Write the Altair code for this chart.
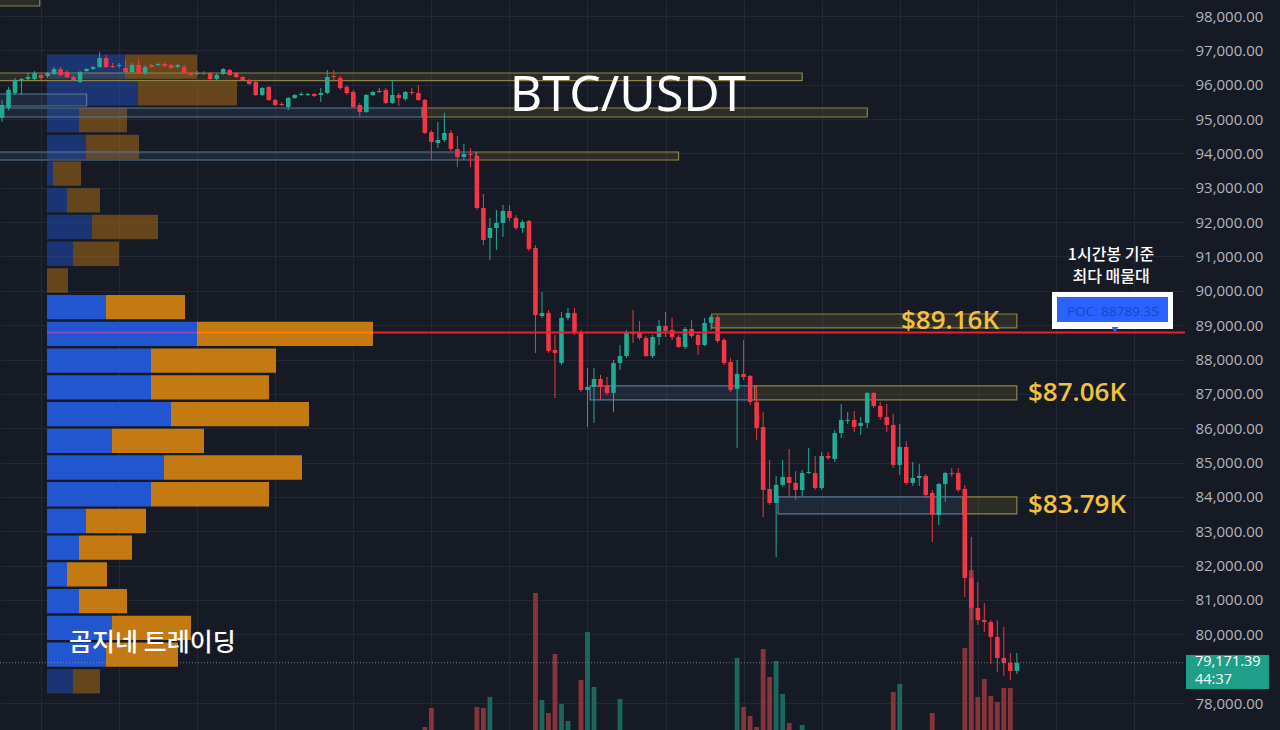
import altair as alt
import pandas as pd

# ---------------- data ----------------
opens = [95030, 95320, 95760, 96110, 96165, 96165, 96283, 96254, 96312, 96457,
         96370, 96224, 96079, 96399, 96457, 96516, 96778, 96545, 96545, 96487,
         96370, 96574, 96341, 96574, 96574, 96603, 96574, 96516, 96516, 96341,
         96310, 96341, 96341, 96166, 96312, 96428, 96341, 96224, 96137, 96079,
         95701, 95933, 95555, 95439, 95351, 95613, 95701, 95701, 95730, 95701,
         95759, 96254, 96195, 95933, 95788, 95409, 95206, 95701, 95788, 95846,
         95468, 95701, 95584, 95788, 95759, 95555, 94623, 94303, 94391, 94594,
         94129, 93896, 93983, 93925, 92411, 91538, 91829, 91975, 92324, 92120,
         91829, 92033, 91247, 89267, 89355, 88277, 87899, 89209, 89355, 88772,
         87113, 87200, 87433, 87230, 87026, 87899, 88103, 88801, 88772, 88627,
         88103, 88656, 88976, 88860, 88656, 88365, 88889, 88714, 88423, 89064,
         89238, 88569, 87928, 87142, 87579, 87520, 86764, 86036, 84231, 83824,
         84348, 84581, 84406, 84202, 84697, 84697, 84260, 85192, 85104, 85861,
         86211, 86240, 86065, 86153, 87026, 86647, 86327, 86094, 84930, 85454,
         84406, 84552, 84610, 84114, 83475, 84377, 84697, 84697, 84231, 81640,
         80767, 80418, 80360, 79923, 79312, 79166, 78933]
highs = [95555, 95930, 96195, 96195, 96340, 96400, 96312, 96370, 96516, 96516,
         96428, 96283, 96399, 96487, 96545, 96952, 96865, 96632, 96632, 96719,
         96632, 96748, 96574, 96603, 96632, 96661, 96603, 96603, 96574, 96370,
         96399, 96399, 96370, 96341, 96487, 96457, 96370, 96254, 96166, 96108,
         95933, 95963, 95584, 95497, 95642, 95730, 95788, 95759, 95759, 95904,
         96428, 96428, 96254, 95992, 95846, 95468, 95730, 95817, 95904, 95904,
         96137, 95759, 95817, 95904, 95992, 95584, 94682, 94915, 95177, 94682,
         94507, 94274, 94158, 93954, 92819, 92120, 92353, 92499, 92499, 92207,
         92062, 92062, 91334, 89966, 89442, 88714, 89384, 89500, 89500, 88860,
         87753, 87753, 87550, 87491, 87986, 88423, 88860, 89442, 89122, 88685,
         88714, 89151, 89384, 89209, 88714, 88947, 89151, 88772, 89209, 89296,
         89296, 88627, 88045, 87986, 88569, 87550, 87259, 86473, 85075, 84610,
         85075, 85396, 84755, 84784, 85425, 85192, 85308, 85308, 85949, 86706,
         86473, 86502, 86327, 87055, 87055, 86764, 86706, 86415, 86123, 85629,
         85017, 84959, 84668, 84202, 84406, 84726, 84843, 84843, 84348, 82834,
         81524, 80913, 80418, 80418, 80214, 79457, 79457]
lows = [94915, 95260, 95700, 95700, 96137, 96137, 96137, 96195, 96283, 96254,
        96195, 96108, 96050, 96370, 96428, 96487, 96487, 96487, 96487, 96341,
        96341, 96312, 96283, 96487, 96545, 96516, 96457, 96487, 96312, 96254,
        96283, 96283, 96137, 96137, 96283, 96254, 96195, 96108, 95992, 95671,
        95671, 95526, 95380, 95380, 95264, 95584, 95671, 95671, 95642, 95497,
        95730, 96137, 95846, 95701, 95322, 95060, 95177, 95671, 95759, 95439,
        95439, 95380, 95526, 95701, 95526, 94565, 93808, 94158, 94332, 94071,
        93605, 93808, 93605, 92353, 91334, 90897, 91189, 91567, 92033, 91771,
        91684, 91160, 88190, 89209, 88190, 86880, 87841, 89151, 88714, 87055,
        86036, 86153, 86822, 86968, 86473, 87695, 88045, 88481, 88569, 88074,
        88045, 88423, 88656, 88569, 88336, 88307, 88627, 88132, 88394, 88860,
        88481, 87841, 87055, 85425, 87404, 86676, 85658, 83416, 83765, 82252,
        84289, 83998, 83911, 84027, 84668, 84202, 84202, 85075, 85017, 85716,
        86123, 85890, 85803, 86007, 86589, 86240, 85890, 84843, 84639, 84348,
        84319, 84319, 83969, 82688, 83183, 83853, 84581, 84144, 81087, 80418,
        80272, 80068, 79137, 78904, 78787, 78671, 78846]
closes = [95410, 95850, 96140, 96165, 96224, 96341, 96195, 96341, 96457, 96283,
          96224, 96137, 96370, 96457, 96516, 96778, 96516, 96516, 96574, 96370,
          96574, 96341, 96516, 96516, 96603, 96545, 96487, 96574, 96341, 96283,
          96341, 96312, 96166, 96283, 96457, 96283, 96224, 96137, 96021, 95701,
          95904, 95555, 95409, 95409, 95613, 95701, 95730, 95730, 95671, 95759,
          96224, 96224, 95904, 95759, 95351, 95206, 95701, 95788, 95817, 95468,
          95701, 95613, 95788, 95759, 95555, 94594, 94332, 94391, 94594, 94129,
          93896, 93983, 93954, 92411, 91480, 91829, 91975, 92324, 92120, 91829,
          92004, 91218, 89296, 89355, 88248, 88190, 89209, 89355, 88772, 87113,
          87200, 87433, 87200, 87026, 87899, 88103, 88772, 88743, 88627, 88103,
          88656, 88976, 88830, 88656, 88365, 88889, 88685, 88423, 89064, 89238,
          88540, 87899, 87113, 87579, 87491, 86764, 86007, 84202, 83824, 84348,
          84581, 84406, 84202, 84697, 84726, 84260, 85192, 85134, 85861, 86240,
          86240, 86036, 86153, 87026, 86647, 86327, 86094, 84930, 85454, 84406,
          84552, 84610, 84056, 83475, 84377, 84697, 84668, 84202, 81640, 80767,
          80418, 80360, 79923, 79312, 79166, 78933, 79171.39]

# visible volume bars (candle index -> volume)
vol_idx = [65, 66, 73, 74, 75, 82, 83, 84, 85, 86, 87, 89, 90, 91, 95,
           113, 114, 115, 116, 117, 118, 119, 120, 121, 123, 137, 138, 143,
           148, 149, 150, 151, 152, 153, 154, 155]
vol_vals = [75, 550, 575, 550, 825, 3425, 750, 425, 1900, 650, 225, 1250, 2450, 1075, 775,
            1800, 575, 350, 75, 2025, 1325, 1725, 900, 175, 125, 950, 1150, 425,
            2050, 4000, 825, 1275, 850, 700, 1050, 1050]

# volume profile rows (row centre price, up volume, down volume)
prof_price = [96525, 95747, 94969, 94191, 93413, 92635, 91857, 91079, 90301, 89523,
              88745, 87967, 87189, 86411, 85633, 84855, 84077, 83299, 82521, 81743,
              80965, 80187, 79409, 78631]
prof_up = [780, 910, 320, 390, 60, 200, 450, 260, 0, 590,
           1500, 1040, 1040, 1240, 650, 1170, 1040, 390, 320, 200,
           320, 650, 590, 260]
prof_down = [720, 990, 480, 530, 280, 330, 660, 460, 210, 790,
             1760, 1250, 1180, 1380, 920, 1380, 1180, 600, 530, 400,
             480, 790, 720, 270]
value_area_rows = list(range(9, 23))

# zones
zone_kind = ["gold", "blue", "blue", "gold", "blue", "gold", "gold", "blue", "gold", "blue", "gold", "gold"]
zone_x0 = [-1, -1, -1, 64.6, -1, 72.9, 109.1, 90.4, 115.7, 119.3, 147.7, -1]
zone_x1 = [123, 13, 64.6, 133, 72.9, 104, 156, 115.7, 156, 147.7, 156, 5.8]
zone_lo = [96117, 95380, 95060, 95060, 93808, 93808, 88918, 86822, 86822, 83504, 83504, 98291]
zone_hi = [96341, 95730, 95322, 95322, 94041, 94041, 89325, 87230, 87230, 83998, 83998, 98700]

zone_labels = ["$89.16K", "$87.06K", "$83.79K"]
zone_label_price = [89120, 87026, 83751]

poc_price = 88789.35
last_price = 79171.39
last_price_text = "79,171.39"
countdown_text = "44:37"
# the 79,000 label is hidden behind the last-price tag
price_ticks = [p for p in range(78000, 99000, 1000) if p != 79000]
grid_idx = [6, 18, 30, 42, 54, 66, 78, 90, 102, 114, 126, 138, 150, 162, 174]

# ---------------- styling ----------------
W, H = 1185, 730
X_DOM = [-0.31, 181.85]
P_DOM = [77214, 98466]
BG = "#161a25"
GRID = "#242834"
GREEN = "#22ab94"
RED = "#f23645"
VGREEN = "#1d665e"
VRED = "#85343b"
BLUE = "#2255d0"
ORANGE = "#c47a12"
GOLD_TXT = "#f2c23c"

xs = alt.Scale(domain=X_DOM, nice=False, zero=False)
ys = alt.Scale(domain=P_DOM, nice=False, zero=False)
pxs = alt.Scale(domain=[-470, 11380], nice=False, zero=False)
vys = alt.Scale(domain=[0, 18250], nice=False, zero=True)

candles = pd.DataFrame({"idx": list(range(len(opens))), "open": opens, "high": highs,
                        "low": lows, "close": closes})
up_cond = alt.datum.close >= alt.datum.open
ccolor = alt.condition(up_cond, alt.value(GREEN), alt.value(RED))

axes_carrier = alt.Chart(candles).mark_rule(strokeWidth=0, opacity=0).encode(
    x=alt.X("idx:Q", scale=xs, axis=alt.Axis(values=grid_idx, grid=True, labels=False, ticks=False,
                                               domain=False, gridColor=GRID, title=None)),
    y=alt.Y("low:Q", scale=ys, axis=alt.Axis(orient="right", values=price_ticks, format=",.2f",
                                               grid=True, gridColor=GRID, labelColor="#b2b5be",
                                               labelFontSize=15, labelFont="Open Sans", ticks=False,
                                               domain=False, labelPadding=10, title=None)),
    y2="high:Q",
)

wicks = alt.Chart(candles).mark_rule(strokeWidth=1).encode(
    x=alt.X("idx:Q", scale=xs, axis=None),
    y=alt.Y("low:Q", scale=ys, axis=None),
    y2="high:Q",
    color=ccolor,
)

bodies = alt.Chart(candles).transform_calculate(
    top="max(datum.open, datum.close)", bot="min(datum.open, datum.close)"
).transform_calculate(
    top2="datum.top - datum.bot < 30 ? (datum.top + datum.bot) / 2 + 15 : datum.top",
    bot2="datum.top - datum.bot < 30 ? (datum.top + datum.bot) / 2 - 15 : datum.bot",
    x0="datum.idx - 0.35", x1="datum.idx + 0.35",
).mark_rect().encode(
    x=alt.X("x0:Q", scale=xs, axis=None), x2="x1:Q",
    y=alt.Y("bot2:Q", scale=ys, axis=None), y2="top2:Q",
    color=ccolor,
)

vol_df = pd.DataFrame({"idx": vol_idx, "vol": vol_vals,
                       "up": [closes[i] >= opens[i] for i in vol_idx]})
volume = alt.Chart(vol_df).transform_calculate(
    x0="datum.idx - 0.37", x1="datum.idx + 0.37", base="0"
).mark_rect(clip=True).encode(
    x=alt.X("x0:Q", scale=xs, axis=None), x2="x1:Q",
    y=alt.Y("vol:Q", scale=vys, axis=None), y2="base:Q",
    color=alt.condition(alt.datum.up, alt.value(VGREEN), alt.value(VRED)),
)

prof = pd.DataFrame({"price": prof_price, "up": prof_up, "down": prof_down,
                     "va": [i in value_area_rows for i in range(len(prof_price))]})
prof_base = alt.Chart(prof).transform_calculate(
    z="0", end="datum.up + datum.down", lo="datum.price - 354", hi="datum.price + 354"
)
pop = alt.condition(alt.datum.va, alt.value(1.0), alt.value(0.45))
prof_blue = prof_base.mark_rect(color=BLUE).encode(
    x=alt.X("z:Q", scale=pxs, axis=None), x2="up:Q",
    y=alt.Y("lo:Q", scale=ys, axis=None), y2="hi:Q", opacity=pop)
prof_orange = prof_base.mark_rect(color=ORANGE).encode(
    x=alt.X("up:Q", scale=pxs, axis=None), x2="end:Q",
    y=alt.Y("lo:Q", scale=ys, axis=None), y2="hi:Q", opacity=pop)

zones = pd.DataFrame({"kind": zone_kind, "x0": zone_x0, "x1": zone_x1, "lo": zone_lo, "hi": zone_hi})
zone_layer = alt.Chart(zones).mark_rect(clip=True, strokeWidth=1.2).encode(
    x=alt.X("x0:Q", scale=xs, axis=None), x2="x1:Q",
    y=alt.Y("lo:Q", scale=ys, axis=None), y2="hi:Q",
    fill=alt.condition(alt.datum.kind == "gold", alt.value("#7d7233"), alt.value("#3b5b82")),
    fillOpacity=alt.value(0.22),
    stroke=alt.condition(alt.datum.kind == "gold", alt.value("#8f8249"), alt.value("#5a7896")),
)

poc_df = pd.DataFrame({"poc": [poc_price], "a": [0], "b": [prof_up[10]],
                       "c": [prof_up[10] + prof_down[10]], "d": [11380]})
poc_purple = alt.Chart(poc_df).mark_rule(color="#8e45c0", strokeWidth=2).encode(
    x=alt.X("a:Q", scale=pxs, axis=None), x2="b:Q", y=alt.Y("poc:Q", scale=ys, axis=None))
poc_orange = alt.Chart(poc_df).mark_rule(color="#ff7b06", strokeWidth=2).encode(
    x=alt.X("b:Q", scale=pxs, axis=None), x2="c:Q", y=alt.Y("poc:Q", scale=ys, axis=None))
poc_red = alt.Chart(poc_df).mark_rule(color="#e8222e", strokeWidth=2).encode(
    x=alt.X("c:Q", scale=pxs, axis=None), x2="d:Q", y=alt.Y("poc:Q", scale=ys, axis=None))

last_df = pd.DataFrame({"p": [last_price]})
last_line = alt.Chart(last_df).mark_rule(color="#8a8e99", strokeWidth=1, strokeDash=[1, 2],
                                          opacity=0.8).encode(
    x=alt.value(0), x2=alt.value(W), y=alt.Y("p:Q", scale=ys, axis=None))

zl = pd.DataFrame({"t": zone_labels, "p": zone_label_price})
zl1 = alt.Chart(zl.iloc[[0]]).mark_text(align="right", baseline="middle", fontSize=26,
                                        font="Open Sans", fontWeight=600, color=GOLD_TXT).encode(
    x=alt.value(999), y=alt.Y("p:Q", scale=ys, axis=None), text="t:N")
zl2 = alt.Chart(zl.iloc[[1, 2]]).mark_text(align="left", baseline="middle", fontSize=26,
                                           font="Open Sans", fontWeight=600, color=GOLD_TXT).encode(
    x=alt.value(1028), y=alt.Y("p:Q", scale=ys, axis=None), text="t:N")

one = pd.DataFrame({"a": [0]})
title = alt.Chart(one).mark_text(text="BTC/USDT", fontSize=50, font="Noto Sans", color="white",
                                  align="center", baseline="middle").encode(
    x=alt.value(628), y=alt.value(96))
water = alt.Chart(one).mark_text(text="곰지네 트레이딩", fontSize=25, font="Noto Sans CJK KR",
                                  fontWeight=500, color="white", align="left",
                                  baseline="middle").encode(
    x=alt.value(69), y=alt.value(643))
kor1 = alt.Chart(one).mark_text(text="1시간봉 기준", fontSize=16, font="Noto Sans CJK KR",
                                 fontWeight=500, color="white", align="center",
                                 baseline="middle").encode(
    x=alt.value(1111), y=alt.value(255))
kor2 = alt.Chart(one).mark_text(text="최다 매물대", fontSize=16, font="Noto Sans CJK KR",
                                 fontWeight=500, color="white", align="center",
                                 baseline="middle").encode(
    x=alt.value(1111), y=alt.value(277))
poc_box_w = alt.Chart(one).mark_rect(color="white").encode(
    x=alt.value(1052), x2=alt.value(1173), y=alt.value(292), y2=alt.value(329))
poc_box_b = alt.Chart(one).mark_rect(color="#2962ff").encode(
    x=alt.value(1057), x2=alt.value(1168), y=alt.value(297), y2=alt.value(322))
poc_txt = alt.Chart(one).mark_text(text=f"POC: {poc_price}", fontSize=13.5, font="Open Sans",
                                    color="#1a46c4", align="center", baseline="middle").encode(
    x=alt.value(1113), y=alt.value(312))
poc_tri = alt.Chart(one).mark_point(shape="triangle-down", filled=True, color="#2962ff",
                                     size=45, opacity=1).encode(
    x=alt.value(1115), y=alt.value(330))

lp_box = alt.Chart(one).mark_rect(color="#1f9e89", clip=False).encode(
    x=alt.value(1186), x2=alt.value(1269), y=alt.value(655), y2=alt.value(689))
lp_txt1 = alt.Chart(one).mark_text(text=last_price_text, fontSize=14.5, font="Open Sans",
                                    color="white", align="left", baseline="middle").encode(
    x=alt.value(1195), y=alt.value(662))
lp_txt2 = alt.Chart(one).mark_text(text=countdown_text, fontSize=14.5, font="Open Sans",
                                    color="white", align="left", baseline="middle").encode(
    x=alt.value(1195), y=alt.value(680))

chart = alt.layer(
    axes_carrier,
    prof_blue, prof_orange, zone_layer, volume,
    wicks, bodies,
    poc_purple, poc_orange, poc_red, last_line,
    zl1, zl2, title, water, kor1, kor2,
    poc_box_w, poc_box_b, poc_txt, poc_tri,
    lp_box, lp_txt1, lp_txt2,
).resolve_scale(x="independent", y="independent").properties(
    width=W, height=H, background=BG,
    padding={"left": 0, "top": 0, "right": 95, "bottom": 0},
    autosize=alt.AutoSizeParams(type="none"),
).configure_view(stroke=None)

chart.save("out.html", embed_options={"renderer": "svg", "actions": False})
